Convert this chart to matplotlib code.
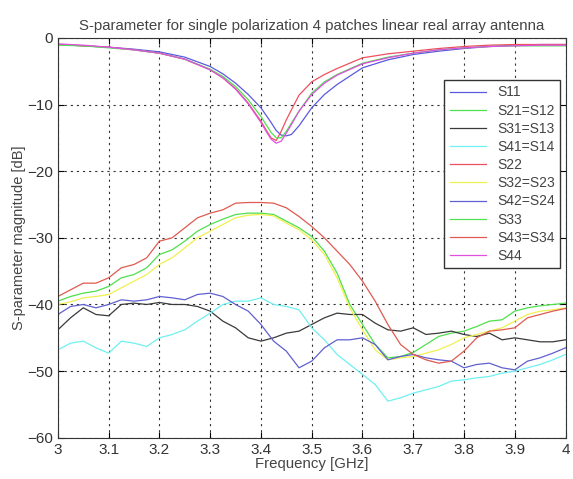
import numpy as np
import matplotlib
matplotlib.use('Agg')
import matplotlib.pyplot as plt

plt.rcParams['font.family'] = ['Liberation Sans', 'DejaVu Sans']

# frequency grid of the coupling curves [GHz]
freq = np.linspace(3.0, 4.0, 41)

s43 = [-38.8, -37.8, -36.8, -36.8, -36.0, -34.5, -34.0, -33.0, -30.5, -30.0,
       -28.5, -27.0, -26.3, -25.8, -24.8, -24.7, -24.7, -24.8, -25.5, -26.8,
       -28.3, -30.0, -32.0, -34.0, -36.5, -39.5, -43.0, -46.0, -47.5, -48.3,
       -48.8, -48.5, -47.0, -45.0, -44.0, -43.8, -43.5, -42.0, -41.5, -41.0, -40.6]
s21 = [-39.5, -38.8, -38.3, -38.0, -37.3, -36.0, -35.5, -34.5, -32.5, -31.8,
       -30.5, -29.0, -28.0, -27.2, -26.5, -26.3, -26.3, -26.5, -27.5, -28.5,
       -29.8, -32.0, -35.3, -40.0, -43.0, -46.0, -48.0, -47.8, -47.2, -46.0,
       -44.8, -44.3, -44.0, -43.3, -42.5, -42.3, -41.0, -40.5, -40.2, -40.0, -39.8]
s32 = [-40.0, -39.6, -39.0, -38.8, -38.5, -37.5, -36.5, -35.5, -34.0, -33.0,
       -31.5, -30.0, -29.0, -28.0, -27.0, -26.6, -26.5, -26.7, -27.8, -28.8,
       -30.3, -32.5, -36.0, -40.5, -43.8, -46.8, -48.3, -48.0, -47.8, -47.3,
       -46.8, -46.0, -45.0, -44.5, -44.0, -43.5, -42.5, -41.5, -41.0, -40.8, -40.5]
s31 = [-43.8, -42.0, -40.5, -41.5, -41.7, -40.0, -39.8, -40.0, -39.7, -40.0,
       -40.0, -40.3, -41.0, -42.5, -43.5, -45.0, -45.5, -45.0, -44.3, -44.0,
       -43.0, -42.0, -41.3, -41.5, -41.5, -42.8, -43.8, -44.0, -43.5, -44.5,
       -44.3, -44.0, -44.5, -44.8, -44.3, -45.3, -45.0, -45.3, -45.6, -45.6, -45.3]
s42 = [-41.5, -40.3, -40.0, -40.5, -40.0, -39.3, -39.5, -39.3, -38.8, -39.0,
       -39.3, -38.5, -38.3, -38.8, -40.0, -41.0, -43.0, -45.5, -47.0, -49.5,
       -48.5, -46.5, -45.3, -45.3, -45.0, -46.0, -48.3, -47.8, -47.5, -48.0,
       -48.3, -48.5, -49.5, -49.0, -48.8, -49.5, -49.8, -48.5, -48.0, -47.3, -46.5]
s41 = [-46.8, -45.8, -45.5, -46.5, -47.3, -45.5, -45.8, -46.3, -45.0, -44.5,
       -43.8, -42.5, -41.3, -40.0, -39.5, -39.5, -39.0, -40.0, -40.3, -40.8,
       -43.5, -45.3, -47.5, -49.0, -50.5, -52.0, -54.5, -54.0, -53.3, -52.8,
       -52.3, -51.5, -51.3, -51.0, -50.8, -50.3, -50.0, -49.5, -49.0, -48.3, -47.5]

# frequency grid of the reflection curves [GHz]
freq_r = [3.0, 3.05, 3.1, 3.15, 3.2, 3.25, 3.3, 3.325, 3.35, 3.375, 3.4, 3.41,
          3.42, 3.43, 3.44, 3.45, 3.46, 3.475, 3.5, 3.525, 3.55, 3.6, 3.65, 3.7,
          3.75, 3.8, 3.85, 3.9, 3.95, 4.0]
s11 = [-1.0, -1.2, -1.4, -1.7, -2.1, -2.9, -4.3, -5.4, -6.8, -8.5, -10.5, -11.6,
       -12.7, -13.9, -14.6, -14.7, -14.5, -13.2, -10.5, -8.5, -7.0, -4.5, -3.3, -2.5,
       -2.0, -1.6, -1.3, -1.1, -1.0, -1.0]
s22 = [-1.0, -1.2, -1.4, -1.8, -2.3, -3.2, -4.8, -6.0, -7.6, -9.8, -12.5, -13.8,
       -15.0, -15.4, -14.0, -12.3, -10.8, -8.6, -6.6, -5.5, -4.6, -3.0, -2.4, -2.0,
       -1.6, -1.3, -1.1, -1.0, -1.0, -1.0]
s33 = [-1.1, -1.2, -1.5, -1.8, -2.3, -3.2, -4.7, -5.8, -7.3, -9.3, -11.8, -13.0,
       -14.2, -15.0, -15.0, -14.0, -12.8, -11.0, -8.3, -6.6, -5.5, -3.8, -2.9, -2.3,
       -1.8, -1.5, -1.3, -1.2, -1.2, -1.2]
s44 = [-0.9, -1.1, -1.4, -1.8, -2.3, -3.2, -4.8, -6.0, -7.7, -9.9, -12.7, -14.0,
       -15.2, -15.8, -15.5, -14.3, -13.0, -11.0, -8.5, -6.8, -5.6, -3.9, -3.0, -2.3,
       -1.8, -1.5, -1.3, -1.2, -1.1, -1.1]

labels = ['S11', 'S21=S12', 'S31=S13', 'S41=S14', 'S22',
          'S32=S23', 'S42=S24', 'S33', 'S43=S34', 'S44']
xticks = [3, 3.1, 3.2, 3.3, 3.4, 3.5, 3.6, 3.7, 3.8, 3.9, 4]
xticklabels = ['3', '3.1', '3.2', '3.3', '3.4', '3.5', '3.6', '3.7', '3.8', '3.9', '4']
yticks = [0, -10, -20, -30, -40, -50, -60]

fig = plt.figure(figsize=(5.73, 4.79), dpi=100)
ax = fig.add_axes([0.101, 0.086, 0.886, 0.835])

series = [
    (freq_r, s11, '#5a5ae0'),
    (freq, s21, '#4ee04e'),
    (freq, s31, '#3a3a3a'),
    (freq, s41, '#70f0f0'),
    (freq_r, s22, '#ee5060'),
    (freq, s32, '#f0f050'),
    (freq, s42, '#6060d0'),
    (freq_r, s33, '#50e050'),
    (freq, s43, '#e05a50'),
    (freq_r, s44, '#e050e0'),
]
for (x, y, c), lab in zip(series, labels):
    ax.plot(x, y, color=c, lw=0.9, label=lab)

ax.set_xlim(3, 4)
ax.set_ylim(-60, 0)
ax.set_xticks(xticks)
ax.set_xticklabels(xticklabels)
ax.set_yticks(yticks)
ax.tick_params(direction='in', top=True, right=True, labelsize=11, length=4,
               labelcolor='#333333')
ax.grid(True, color='#333333', linestyle=(0, (2, 3.5)), lw=0.8)
for sp in ax.spines.values():
    sp.set_color('#333333')

ax.set_title('S-parameter for single polarization 4 patches linear real array antenna',
             fontsize=10.8, pad=6, color='#444444')
ax.set_xlabel('Frequency [GHz]', fontsize=10.8, labelpad=0, color='#444444')
ax.set_ylabel('S-parameter magnitude [dB]', fontsize=10.5, labelpad=1, color='#444444')

leg = ax.legend(loc='upper right', bbox_to_anchor=(0.99, 0.895), fontsize=10,
                fancybox=False, edgecolor='#333333', framealpha=1,
                handlelength=2.6, labelspacing=0.3, borderpad=0.4,
                borderaxespad=0)
for t in leg.get_texts():
    t.set_color('#444444')
leg.get_frame().set_linewidth(1.0)

fig.savefig('out.png', dpi=100)
